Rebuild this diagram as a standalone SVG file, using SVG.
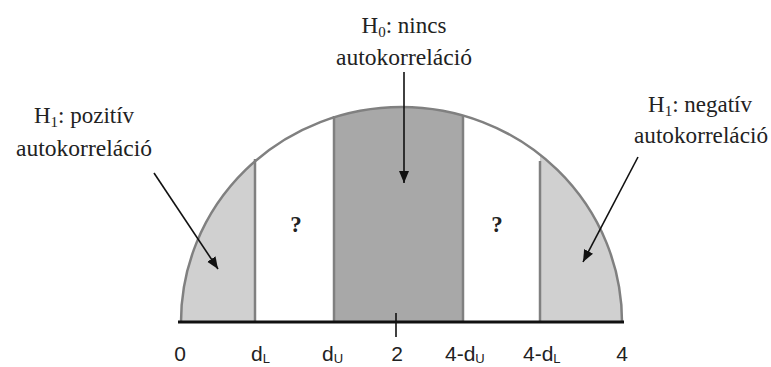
<svg xmlns="http://www.w3.org/2000/svg" width="771" height="367" viewBox="0 0 771 367">
<style>
.lbl{font-family:"Liberation Serif","Times New Roman",serif;font-size:23px;fill:#222;text-anchor:middle}
.ax{font-family:"Liberation Sans",Arial,sans-serif;font-size:21px;fill:#222}
.sub{font-size:13px}
.q{font-family:"Liberation Serif",serif;font-size:23px;font-weight:bold;fill:#222;text-anchor:middle}
.div{stroke:#808080;stroke-width:2.5;fill:none}
.arr{stroke:#111;stroke-width:1.6;fill:none;marker-end:url(#ah)}
</style>
<defs>
<clipPath id="half"><path d="M181,322 A220.5,215 0 0 1 622,322 Z"/></clipPath>
<marker id="ah" markerUnits="userSpaceOnUse" markerWidth="14" markerHeight="12" refX="12" refY="5" orient="auto"><path d="M0,0 L12,5 L0,10 Z" fill="#111"/></marker>
</defs>
<rect width="771" height="367" fill="#fff"/>
<g id="regions" clip-path="url(#half)">
<rect x="175" y="100" width="80" height="225" fill="#d0d0d0"/>
<rect x="255" y="100" width="79" height="225" fill="#fff"/>
<rect x="334" y="100" width="129" height="225" fill="#a8a8a8"/>
<rect x="463" y="100" width="77" height="225" fill="#fff"/>
<rect x="540" y="100" width="90" height="225" fill="#d0d0d0"/>
</g>
<g id="dividers">
<line class="div" x1="255" y1="159" x2="255" y2="322"/>
<line class="div" x1="334" y1="116" x2="334" y2="322"/>
<line class="div" x1="463" y1="116" x2="463" y2="322"/>
<line class="div" x1="540" y1="161" x2="540" y2="322"/>
</g>
<path id="arc" d="M181,322 A220.5,215 0 0 1 622,322" fill="none" stroke="#808080" stroke-width="2.5"/>
<g id="axis">
<line x1="178" y1="322" x2="624" y2="322" stroke="#111" stroke-width="3"/>
<line x1="396" y1="313" x2="396" y2="337" stroke="#111" stroke-width="1.6"/>
<text class="ax" x="180" y="361" text-anchor="middle">0</text>
<text class="ax" x="251" y="361">d<tspan class="sub" dy="2">L</tspan></text>
<text class="ax" x="322" y="361">d<tspan class="sub" dy="2">U</tspan></text>
<text class="ax" x="397" y="361" text-anchor="middle">2</text>
<text class="ax" x="445" y="361">4-d<tspan class="sub" dy="2">U</tspan></text>
<text class="ax" x="523" y="361">4-d<tspan class="sub" dy="2">L</tspan></text>
<text class="ax" x="622" y="361" text-anchor="middle">4</text>
</g>
<g id="q-left"><text class="q" x="296" y="232">?</text></g>
<g id="q-right"><text class="q" x="497" y="232">?</text></g>
<g id="node-h1-pos">
<text class="lbl" x="84" y="123">H<tspan font-size="15" dy="4">1</tspan><tspan dy="-4">: pozitív</tspan></text>
<text class="lbl" x="84" y="156" textLength="136" lengthAdjust="spacingAndGlyphs">autokorreláció</text>
</g>
<g id="node-h0">
<text class="lbl" x="404" y="33">H<tspan font-size="15" dy="4">0</tspan><tspan dy="-4">: nincs</tspan></text>
<text class="lbl" x="404" y="65" textLength="136" lengthAdjust="spacingAndGlyphs">autokorreláció</text>
</g>
<g id="node-h1-neg">
<text class="lbl" x="700" y="112">H<tspan font-size="15" dy="4">1</tspan><tspan dy="-4">: negatív</tspan></text>
<text class="lbl" x="701" y="143" textLength="134" lengthAdjust="spacingAndGlyphs">autokorreláció</text>
</g>
<g id="connectors">
<line class="arr" x1="154" y1="173" x2="218" y2="269"/>
<line class="arr" x1="404" y1="72" x2="404" y2="183"/>
<line class="arr" x1="638" y1="157" x2="583" y2="262"/>
</g>
</svg>
